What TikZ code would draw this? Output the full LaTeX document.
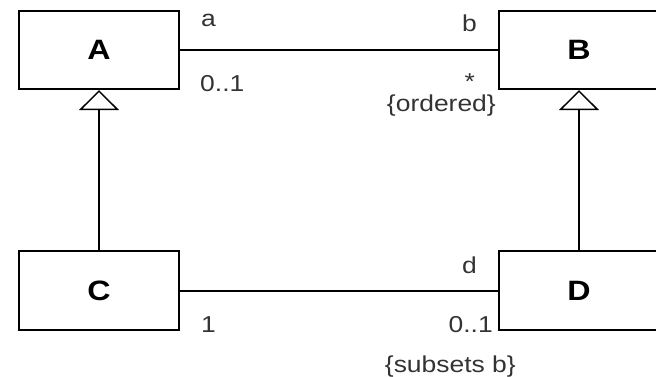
\documentclass[tikz,border=0pt]{standalone}
\usepackage{fontspec}
\setmainfont{Liberation Sans}[FakeStretch=1.15]
\usetikzlibrary{arrows.meta}
\begin{document}
\begin{tikzpicture}[x=1pt,y=-1pt,
  cls/.style={draw,line width=2.2pt,minimum width=160pt,minimum height=78pt,inner sep=0pt,font=\fontsize{28}{32}\selectfont\bfseries},
  assoc/.style={line width=2pt},
  gen/.style={line width=2pt,-{Triangle[open,width=40pt,length=20pt,line width=1.5pt]}},
  lbl/.style={inner sep=0pt,font=\fontsize{23}{27}\selectfont,text=black!80}]
\useasboundingbox (0,0) rectangle (656,377);
\node[cls] (A) at (99,50) {A};
\node[cls] (B) at (579,50) {B};
\node[cls,minimum height=79pt] (C) at (99,290.5) {C};
\node[cls,minimum height=79pt] (D) at (579,290.5) {D};
\draw[assoc] (A.east) -- (B.west);
\draw[assoc] (C.east) -- (D.west);
\draw[gen] (C.north) -- (A.south);
\draw[gen] (D.north) -- (B.south);
\node[lbl,anchor=base west] (la) at (201,27) {a};
\node[lbl,anchor=base west] (la1) at (200,92) {0..1};
\node[lbl,anchor=base east] (lb) at (477,32) {b};
\node[lbl,anchor=base east] (lstar) at (475,90) {*};
\node[lbl,anchor=base east] (lord) at (496,112) {\{ordered\}};
\node[lbl,anchor=base east] (ld) at (477,273) {d};
\node[lbl,anchor=base west] (l1) at (201,332) {1};
\node[lbl,anchor=base east] (l01) at (493,332) {0..1};
\node[lbl,anchor=base east] (lsub) at (516,372) {\{subsets b\}};
\end{tikzpicture}
\end{document}
